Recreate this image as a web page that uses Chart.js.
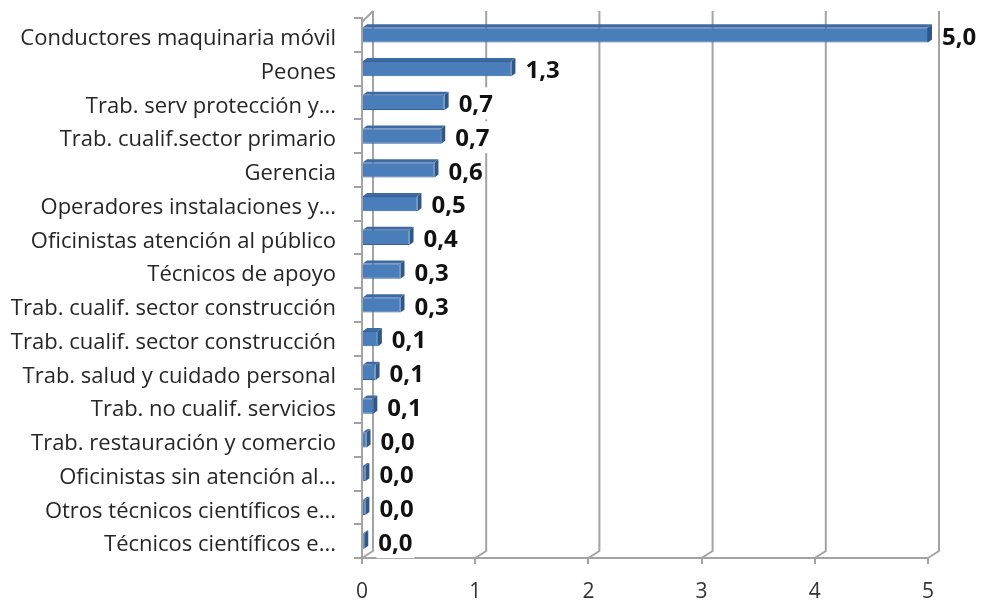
<!DOCTYPE html>
<html>
<head>
<meta charset="utf-8">
<script src="https://cdn.jsdelivr.net/npm/chart.js@4.4.1/dist/chart.umd.min.js"></script>
<style>
  body { margin: 0; background: #fff; }
  #wrap { width: 986px; height: 600px; position: relative; }
</style>
</head>
<body>
<div id="wrap"><canvas id="chart"></canvas></div>
<script>
const categories = [
    'Conductores maquinaria móvil',
    'Peones',
    'Trab. serv protección y...',
    'Trab. cualif.sector primario',
    'Gerencia',
    'Operadores instalaciones y...',
    'Oficinistas atención al público',
    'Técnicos de apoyo',
    'Trab. cualif. sector construcción',
    'Trab. cualif. sector construcción',
    'Trab. salud y cuidado personal',
    'Trab. no cualif. servicios',
    'Trab. restauración y comercio',
    'Oficinistas sin atención al...',
    'Otros técnicos científicos e...',
    'Técnicos científicos e...'
];
const values = [5.0, 1.32, 0.73, 0.70, 0.64, 0.49, 0.42, 0.34, 0.34, 0.14, 0.12, 0.10, 0.04, 0.03, 0.03, 0.02];
const xTicks = [0, 1, 2, 3, 4, 5];

function fmt(v) {
    return v.toFixed(1).replace('.', ',');
}

// back wall + floor lines, Excel 3D look
const wallPlugin = {
    id: 'wall',
    beforeDatasetsDraw(chart) {
        const {ctx, chartArea: a, scales: {x}} = chart;
        const dx = 11, dy = 7;
        ctx.save();
        ctx.strokeStyle = '#a3a3a3';
        ctx.lineWidth = 2;
        xTicks.forEach(v => {
            const px = x.getPixelForValue(v);
            ctx.beginPath();
            ctx.moveTo(px + dx, a.top - dy);
            ctx.lineTo(px + dx, a.bottom - dy);
            ctx.lineTo(px, a.bottom);
            ctx.stroke();
        });
        ctx.beginPath();
        ctx.moveTo(a.left, a.top + 4);
        ctx.lineTo(a.left + dx, a.top - dy);
        ctx.stroke();
        ctx.restore();
    },
    afterDatasetsDraw(chart) {
        const ctx = chart.ctx;
        const meta = chart.getDatasetMeta(0);
        ctx.save();
        meta.data.forEach((bar, i) => {
            const h = bar.height;
            const top = bar.y - h / 2, bot = bar.y + h / 2;
            // end cap
            ctx.fillStyle = '#2f5889';
            ctx.beginPath();
            ctx.moveTo(bar.x, top);
            ctx.lineTo(bar.x + 4, top - 3);
            ctx.lineTo(bar.x + 4, bot - 3);
            ctx.lineTo(bar.x, bot);
            ctx.closePath();
            ctx.fill();
            // top face
            ctx.fillStyle = '#3d6aa3';
            ctx.beginPath();
            ctx.moveTo(bar.base, top);
            ctx.lineTo(bar.base + 4, top - 3);
            ctx.lineTo(bar.x + 4, top - 3);
            ctx.lineTo(bar.x, top);
            ctx.closePath();
            ctx.fill();
            // value label
            const txt = fmt(values[i]);
            ctx.font = 'bold 24px "Open Sans"';
            ctx.textBaseline = 'middle';
            ctx.textAlign = 'left';
            const lx = bar.x + 14;
            const w = ctx.measureText(txt).width;
            ctx.fillStyle = '#fff';
            ctx.fillRect(lx - 2, bar.y - 15, w + 4, 32);
            ctx.fillStyle = '#111';
            ctx.fillText(txt, lx, bar.y + 3);
        });
        ctx.restore();
    }
};

const data = {
    labels: categories,
    datasets: [{
            data: values,
            backgroundColor: '#4a7ebb',
            borderColor: '#34619a',
            borderWidth: 1,
            categoryPercentage: 0.9,
            barPercentage: 0.5
        }]
};

const config = {
    type: 'bar',
    data: data,
    options: {
        indexAxis: 'y',
        responsive: true,
        maintainAspectRatio: false,
        animation: false,
        layout: {padding: {top: 18, right: 58, left: 0, bottom: 0}},
        plugins: {legend: {display: false}, tooltip: {enabled: false}},
        scales: {
            x: {
                min: 0,
                max: 5,
                afterFit: s => { s.height = 42; s.paddingLeft = 0; s.paddingRight = 0; },
                afterBuildTicks: s => { s.ticks = xTicks.map(v => ({value: v})); },
                grid: {drawOnChartArea: false, color: '#a3a3a3', lineWidth: 2, tickLength: 6},
                border: {color: '#a3a3a3', width: 2},
                ticks: {color: '#333', font: {family: 'Open Sans', size: 21}, padding: 15}
            },
            y: {
                afterFit: s => { s.width = 362; s.paddingTop = 0; s.paddingBottom = 0; },
                grid: {drawOnChartArea: false, color: '#a3a3a3', lineWidth: 2, tickLength: 8},
                border: {color: '#a3a3a3', width: 2},
                ticks: {color: '#262626', font: {family: 'Open Sans', size: 22}, padding: 18, labelOffset: 4, autoSkip: false}
            }
        }
    },
    plugins: [wallPlugin]
};

let ctx = document.getElementById('chart').getContext('2d');
new Chart(ctx, config);
</script>
</body>
</html>
